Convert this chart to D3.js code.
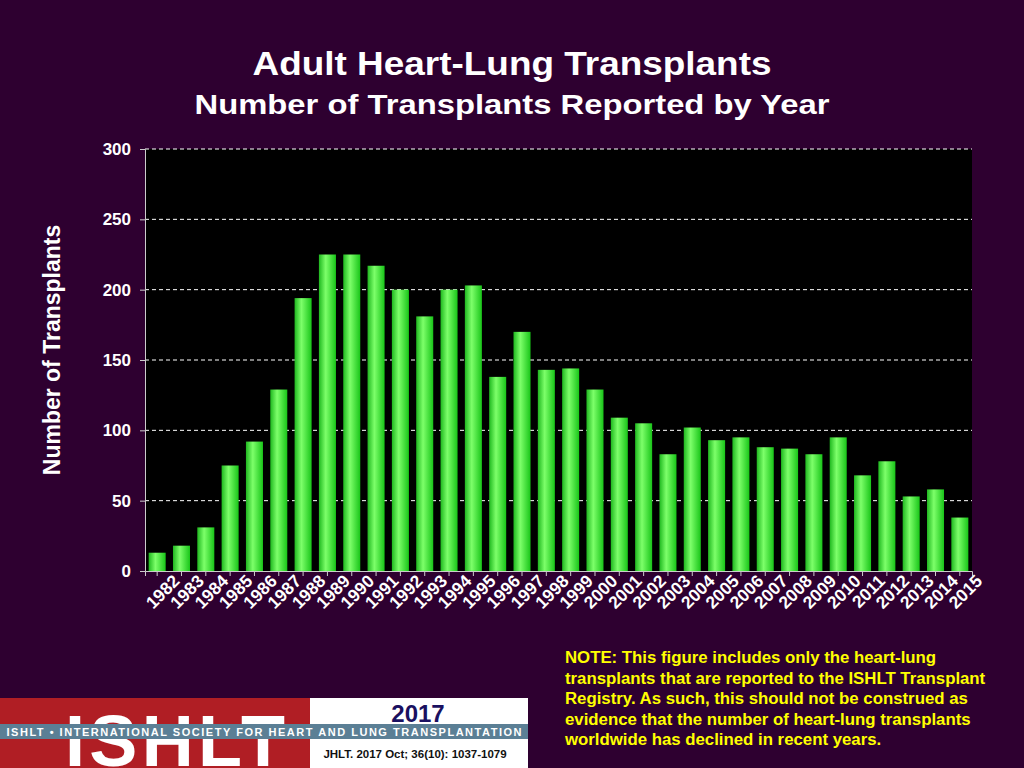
<!DOCTYPE html>
<html><head><meta charset="utf-8">
<script src="https://cdn.jsdelivr.net/npm/d3@7"></script>
<style>body{margin:0;background:#2e0030;}svg{display:block;font-family:Arial,"Liberation Sans",sans-serif;}</style>
</head><body>
<svg width="1024" height="768"></svg>
<script>
// data
const years = d3.range(1982, 2016).map(String);
const transplants = [13, 18, 31, 75, 92, 129, 194, 225, 225, 217, 200, 181, 200, 203, 138, 170, 143, 144, 129, 109, 105, 83, 102, 93, 95, 88, 87, 83, 95, 68, 78, 53, 58, 38];
const yTicks = [0, 50, 100, 150, 200, 250, 300];
const noteLines = [
  "NOTE: This figure includes only the heart-lung",
  "transplants that are reported to the ISHLT Transplant",
  "Registry.  As such, this should not be construed as",
  "evidence that the number of heart-lung transplants",
  "worldwide has declined in recent years."
];

const svg = d3.select("svg");
const m = {left: 145, right: 972, top: 149, bottom: 571};

// titles
svg.append("text").attr("x", 512).attr("y", 75).attr("text-anchor", "middle")
  .attr("fill", "white").style("font-size", "34px").style("font-weight", "bold")
  .attr("textLength", 519).attr("lengthAdjust", "spacingAndGlyphs").text("Adult Heart-Lung Transplants");
svg.append("text").attr("x", 512).attr("y", 114).attr("text-anchor", "middle")
  .attr("fill", "white").style("font-size", "28px").style("font-weight", "bold")
  .attr("textLength", 635).attr("lengthAdjust", "spacingAndGlyphs").text("Number of Transplants Reported by Year");

const x = d3.scaleBand().domain(years).range([m.left, m.right]).paddingInner(0.3).paddingOuter(0.15);
const y = d3.scaleLinear().domain([0, 300]).range([m.bottom, m.top]);

svg.append("rect").attr("x", m.left).attr("y", m.top)
  .attr("width", m.right - m.left).attr("height", m.bottom - m.top).attr("fill", "black");

// gridlines
svg.append("g").selectAll("line").data(yTicks.filter(d => d > 0)).join("line")
  .attr("x1", m.left).attr("x2", m.right).attr("y1", d => y(d)).attr("y2", d => y(d))
  .attr("stroke", "white").attr("stroke-dasharray", "4,3").attr("stroke-width", 1);

const defs = svg.append("defs");
const grad = defs.append("linearGradient").attr("id", "g");
grad.append("stop").attr("offset", "0%").attr("stop-color", "#1fb81f");
grad.append("stop").attr("offset", "40%").attr("stop-color", "#7dff6a");
grad.append("stop").attr("offset", "100%").attr("stop-color", "#19c519");

svg.append("g").selectAll("rect").data(transplants).join("rect")
  .attr("x", (d, i) => x(years[i])).attr("width", x.bandwidth())
  .attr("y", d => y(d)).attr("height", d => y(0) - y(d))
  .attr("fill", "url(#g)");

// axes
const yAxis = svg.append("g").attr("transform", `translate(${m.left},0)`)
  .call(d3.axisLeft(y).tickValues(yTicks).tickSize(5));
yAxis.selectAll("text").attr("fill", "white").style("font-size", "17px").style("font-weight", "bold").attr("dx", "-6");
yAxis.selectAll("line,path").attr("stroke", "#ccc");

const xAxis = svg.append("g").attr("transform", `translate(0,${m.bottom})`)
  .call(d3.axisBottom(x).tickSize(5));
xAxis.selectAll("line,path").attr("stroke", "#ccc");
xAxis.selectAll("text").attr("fill", "white").style("font-size", "17.5px").style("font-weight", "bold")
  .attr("text-anchor", "end").attr("transform", "rotate(-45)").attr("dx", "0.5em").attr("dy", "0.95em");

svg.append("text").attr("transform", "translate(60,350) rotate(-90)").attr("text-anchor", "middle")
  .attr("fill", "white").style("font-size", "23px").style("font-weight", "bold")
  .text("Number of Transplants");

// note
svg.append("g").selectAll("text").data(noteLines).join("text")
  .attr("x", 565).attr("y", (d, i) => 663 + i * 20.5)
  .attr("fill", "#ffff00").style("font-size", "16.8px").style("font-weight", "bold").text(d => d);

// logo block
const logo = svg.append("g");
logo.append("rect").attr("x", 0).attr("y", 698).attr("width", 310).attr("height", 70).attr("fill", "#b01e24");
logo.append("rect").attr("x", 310).attr("y", 698).attr("width", 218).attr("height", 70).attr("fill", "white");
logo.append("text").attr("x", 175).attr("y", 766).attr("text-anchor", "middle").attr("fill", "white")
  .style("font-size", "72px").style("font-weight", "bold").attr("textLength", 220).text("ISHLT");
logo.append("rect").attr("x", 0).attr("y", 724).attr("width", 528).attr("height", 15).attr("fill", "#5b7f95");
logo.append("text").attr("x", 264).attr("y", 736).attr("text-anchor", "middle").attr("fill", "white")
  .style("font-size", "11px").style("font-weight", "bold").attr("textLength", 515)
  .text("ISHLT • INTERNATIONAL SOCIETY FOR HEART AND LUNG TRANSPLANTATION");
logo.append("text").attr("x", 418).attr("y", 722).attr("text-anchor", "middle").attr("fill", "#1a1060")
  .style("font-size", "24px").style("font-weight", "bold").text("2017");
logo.append("text").attr("x", 415).attr("y", 758).attr("text-anchor", "middle").attr("fill", "#111")
  .style("font-size", "11.5px").style("font-weight", "bold").text("JHLT. 2017 Oct; 36(10): 1037-1079");
</script>
</body></html>
